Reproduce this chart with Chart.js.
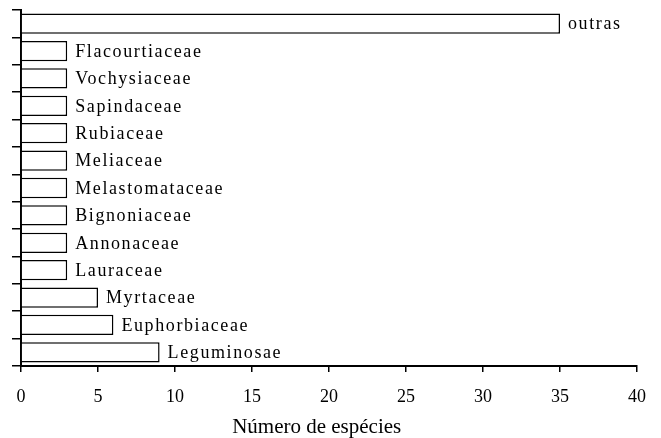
<!DOCTYPE html>
<html>
<head>
<meta charset="utf-8">
<script src="https://cdn.jsdelivr.net/npm/chart.js@4/dist/chart.umd.min.js"></script>
<style>
html,body{margin:0;padding:0;background:#fff;}
#wrap{width:661px;height:438px;}
</style>
</head>
<body>
<div id="wrap"><canvas id="c" width="661" height="438"></canvas></div>
<script>
const families = ["outras","Flacourtiaceae","Vochysiaceae","Sapindaceae","Rubiaceae","Meliaceae","Melastomataceae","Bignoniaceae","Annonaceae","Lauraceae","Myrtaceae","Euphorbiaceae","Leguminosae"];
const species = [35,3,3,3,3,3,3,3,3,3,5,6,9];
const xTitle = "Número de espécies";
const xMin = 0, xMax = 40, xStep = 5;

const FONT = "'Liberation Serif', 'Times New Roman', serif";

const barLabels = {
  id: 'barLabels',
  afterDatasetsDraw(chart) {
    const ctx = chart.ctx;
    const meta = chart.getDatasetMeta(0);
    const xs = chart.scales.x;
    ctx.save();
    ctx.letterSpacing = '1.6px';
    ctx.font = "18px " + FONT;
    ctx.fillStyle = '#000';
    ctx.textAlign = 'left';
    ctx.textBaseline = 'middle';
    meta.data.forEach((bar, i) => {
      const x = xs.getPixelForValue(species[i]) + 8;
      ctx.fillText(families[i], x, bar.y + 1);
    });
    ctx.restore();
  },
  afterDraw(chart) {
    const ctx = chart.ctx;
    const xs = chart.scales.x;
    ctx.save();
    ctx.font = "21px " + FONT;
    ctx.fillStyle = '#000';
    ctx.textAlign = 'center';
    ctx.textBaseline = 'alphabetic';
    ctx.fillText(xTitle, xs.getPixelForValue(19.2), 433);
    ctx.restore();
  }
};

new Chart(document.getElementById('c'), {
  type: 'bar',
  data: {
    labels: families,
    datasets: [{
      data: species,
      backgroundColor: '#ffffff',
      borderColor: '#000000',
      borderWidth: 1.5,
      barPercentage: 0.74,
      categoryPercentage: 1.0
    }]
  },
  plugins: [barLabels],
  options: {
    indexAxis: 'y',
    responsive: false,
    animation: false,
    devicePixelRatio: 1,
    layout: { padding: { top: 10, right: 24, left: 0, bottom: 0 } },
    plugins: { legend: { display: false }, tooltip: { enabled: false } },
    scales: {
      y: {
        type: 'category',
        offset: true,
        ticks: { display: false },
        grid: { drawOnChartArea: false, drawTicks: true, tickLength: 9, color: '#000', lineWidth: 1.5, offset: true },
        border: { display: true, color: '#000', width: 2 },
        afterFit(s) { s.width = 21; }
      },
      x: {
        type: 'linear',
        min: xMin, max: xMax,
        ticks: { stepSize: xStep, color: '#000', font: { family: FONT, size: 18 }, padding: 14 },
        grid: { drawOnChartArea: false, drawTicks: true, tickLength: 6, color: '#000', lineWidth: 1.5 },
        border: { display: true, color: '#000', width: 2 },
        title: { display: false },
        afterFit(s) { s.height = 72; }
      }
    }
  }
});
</script>
</body>
</html>
